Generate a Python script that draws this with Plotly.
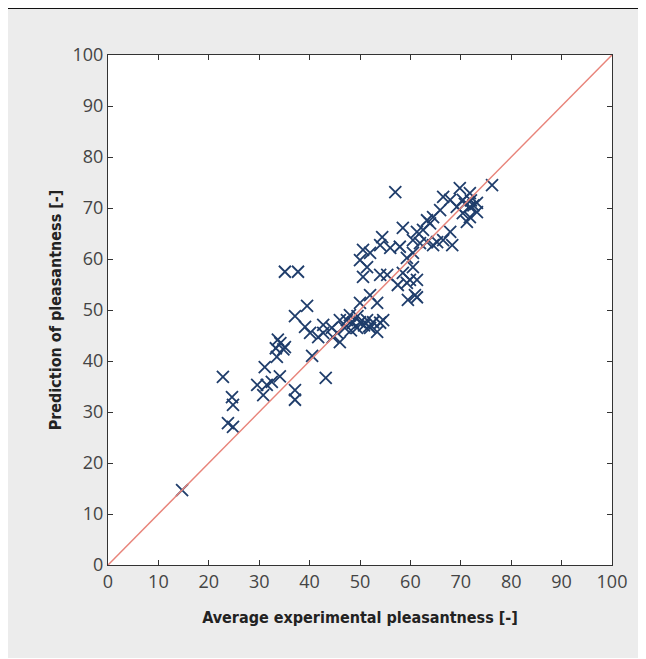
import plotly.graph_objects as go

exp_x = [14.7, 22.8, 24.6, 24.8, 23.8, 24.8, 29.6, 31.5, 30.8, 31.1, 32.5, 34.1, 33.5, 33.3, 34.2,
         34.8, 33.7, 35.1, 37.1, 37.1, 35.1, 37.7, 39.5, 37.1, 39.1, 40.1, 42.7, 41.7, 40.5, 43.2,
         42.7, 44.4, 46.0, 47.4, 48.6, 50.0, 51.4, 52.6, 54.0, 54.6, 47.0, 49.4, 52.0, 53.4, 44.6,
         46.0, 50.6, 54.0, 55.4, 59.9, 57.5, 60.9, 59.5, 52.0, 50.0, 53.4, 48.0, 49.5, 50.8, 51.8,
         48.2, 45.5, 57.0, 76.2, 69.8, 71.8, 70.4, 73.2, 71.8, 69.2, 67.9, 66.5, 71.8, 70.4, 73.2,
         71.2, 65.9, 64.5, 63.3, 63.9, 62.5, 61.3, 58.5, 60.5, 63.3, 64.5, 65.3, 66.5, 67.9, 68.3,
         54.4, 54.0, 56.0, 57.9, 50.6, 52.0, 60.5, 59.3, 50.0, 51.4, 58.5, 60.5, 59.3, 61.3, 61.3,
         61.9, 72.5, 70.8, 72.0]
pred_y = [14.7, 36.9, 32.9, 31.4, 27.8, 27.1, 35.3, 35.3, 33.3, 38.8, 35.9, 37.0, 40.8, 42.5, 43.5,
          42.3, 44.2, 42.7, 34.3, 32.4, 57.5, 57.5, 50.8, 48.8, 46.7, 45.5, 47.1, 44.7, 41.0, 36.7,
          45.5, 46.5, 48.0, 48.0, 47.5, 47.6, 48.0, 47.6, 47.5, 48.0, 46.5, 46.5, 46.5, 45.7, 44.7,
          43.7, 56.5, 56.9, 56.9, 55.9, 54.9, 52.9, 52.0, 52.9, 51.4, 51.4, 49.0, 48.8, 47.0, 46.8,
          46.0, 45.5, 73.1, 74.5, 73.9, 72.9, 71.6, 71.0, 70.2, 70.2, 71.6, 72.2, 68.2, 69.0, 69.2,
          67.3, 69.6, 68.2, 67.6, 67.0, 65.7, 65.3, 66.1, 63.7, 63.3, 62.7, 63.3, 63.7, 65.3, 62.7,
          64.3, 62.7, 62.2, 62.4, 61.8, 61.2, 61.2, 60.2, 59.8, 58.4, 57.3, 58.4, 55.3, 55.9, 52.5,
          63.1, 70.5, 70.8, 71.5]
ref_line = [0, 100]
ticks = [0, 10, 20, 30, 40, 50, 60, 70, 80, 90, 100]

W, H = 646, 650
L, R, T, B = 100, 42, 47, 93

fig = go.Figure()
fig.add_trace(go.Scatter(
    x=exp_x, y=pred_y, mode="markers",
    marker=dict(symbol="x-thin-open", size=12, line=dict(width=1.8, color="#1f3d6b"), color="#1f3d6b"),
    showlegend=False, hoverinfo="x+y"))
fig.add_trace(go.Scatter(
    x=ref_line, y=ref_line, mode="lines",
    line=dict(color="#e8847a", width=1.5), showlegend=False, hoverinfo="skip"))

axis_common = dict(
    range=[0, 100], tickmode="array", tickvals=ticks, ticktext=[str(t) for t in ticks],
    ticks="inside", ticklen=5, tickcolor="#333", showline=True, linecolor="#333", linewidth=1,
    mirror="ticks", showgrid=False, zeroline=False,
    tickfont=dict(family="Open Sans, Lato, sans-serif", size=18, color="#444"),
)

title_font = dict(family="Liberation Sans Narrow, DejaVu Sans Condensed, sans-serif", size=16, color="#222")

pw, ph = W - L - R, H - T - B
fig.update_layout(
    width=W, height=H,
    margin=dict(l=L, r=R, t=T, b=B),
    paper_bgcolor="#ececec", plot_bgcolor="white",
    xaxis=dict(**axis_common,
               title=dict(text="<b>Average experimental pleasantness [-]</b>", standoff=20, font=title_font)),
    yaxis=dict(**axis_common,
               title=dict(text="<b>Prediction of pleasantness [-]</b>", standoff=6, font=title_font)),
    shapes=[
        dict(type="line", xref="paper", yref="paper",
             x0=-L / pw, x1=(W - L) / pw, y0=(H - B) / ph, y1=(H - B) / ph,
             line=dict(color="#111", width=2), layer="above"),
    ],
)

fig.write_html("out.html",
               post_script="document.documentElement.style.overflow='hidden';document.body.style.overflow='hidden';")
